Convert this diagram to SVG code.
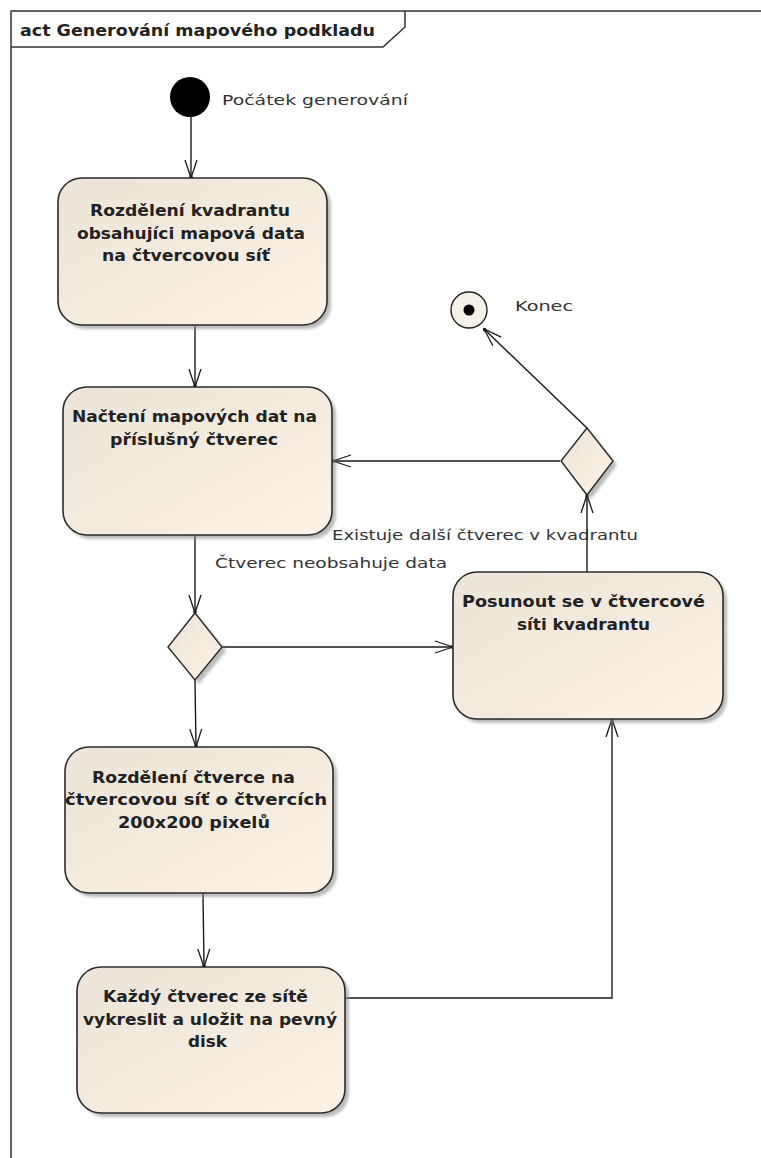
<svg xmlns="http://www.w3.org/2000/svg" width="761" height="1158" viewBox="0 0 761 1158">
  <style>
    .frame { fill: none; stroke: #333; stroke-width: 1.5; }
    .act { fill: url(#actFill); stroke: #2b2b2b; stroke-width: 1.6; }
    .shadow { fill: #8c8c8c; opacity: 0.6; filter: url(#soft); }
    .dec { fill: url(#actFill); stroke: #2b2b2b; stroke-width: 1.4; }
    .edge { fill: none; stroke: #1a1a1a; stroke-width: 1.4; }
    .bold { font-family: "DejaVu Sans", "Liberation Sans", sans-serif; font-weight: bold; font-size: 15.5px; fill: #222; }
    .lbl { font-family: "DejaVu Sans", "Liberation Sans", sans-serif; font-size: 14.5px; fill: #333; }
  </style>
  <defs>
    <linearGradient id="actFill" x1="0" y1="0" x2="1" y2="1">
      <stop offset="0" stop-color="#ece4d8"/>
      <stop offset="1" stop-color="#fcf2e5"/>
    </linearGradient>
    <filter id="soft" x="-10%" y="-10%" width="120%" height="120%">
      <feGaussianBlur stdDeviation="1.5"/>
    </filter>
    <marker id="open" viewBox="0 -7 20 14" refX="19" refY="0" markerWidth="20" markerHeight="14" markerUnits="userSpaceOnUse" orient="auto">
      <path d="M1,-6 L19,0 L1,6" fill="none" stroke="#1a1a1a" stroke-width="1.3"/>
      <circle cx="18" cy="0" r="1.8" fill="#1a1a1a"/>
    </marker>
  </defs>

  <rect width="761" height="1158" fill="#ffffff"/>

  <!-- activity frame -->
  <g id="frame">
    <path class="frame" d="M11,1158 L11,11 L761,11"/>
    <path class="frame" d="M11,47 L383,47 L405,27 L405,11"/>
    <text x="20" y="36" class="bold" textLength="355" lengthAdjust="spacingAndGlyphs">act Generování mapového podkladu</text>
  </g>

  <!-- connectors -->
  <g id="connectors">
    <path class="edge" d="M191,117 L191,178" marker-end="url(#open)"/>
    <path class="edge" d="M195,326 L195,387" marker-end="url(#open)"/>
    <path class="edge" d="M560,461 L333,461" marker-end="url(#open)"/>
    <path class="edge" d="M587,428 L484,329" marker-end="url(#open)"/>
    <path class="edge" d="M195,535 L195,613" marker-end="url(#open)"/>
    <path class="edge" d="M222,647 L453,647" marker-end="url(#open)"/>
    <path class="edge" d="M587,572 L587,495" marker-end="url(#open)"/>
    <path class="edge" d="M195,680 L196,747" marker-end="url(#open)"/>
    <path class="edge" d="M203,893 L204,967" marker-end="url(#open)"/>
    <path class="edge" d="M345,998 L612,998 L612,719" marker-end="url(#open)"/>
    <text x="332" y="540" class="lbl" textLength="306" lengthAdjust="spacingAndGlyphs">Existuje další čtverec v kvadrantu</text>
    <text x="215" y="568" class="lbl" textLength="232" lengthAdjust="spacingAndGlyphs">Čtverec neobsahuje data</text>
  </g>

  <!-- start -->
  <g id="start">
    <circle cx="190" cy="97" r="20" fill="#000"/>
    <text x="222" y="105" class="lbl" textLength="186" lengthAdjust="spacingAndGlyphs">Počátek generování</text>
  </g>

  <!-- end -->
  <g id="end">
    <circle cx="469" cy="310" r="18" fill="#f6f1e8" stroke="#222" stroke-width="1.4"/>
    <circle cx="469" cy="310" r="5.5" fill="#000"/>
    <text x="515" y="311" class="lbl" textLength="58" lengthAdjust="spacingAndGlyphs">Konec</text>
  </g>

  <!-- split quadrant -->
  <g id="a1">
    <rect class="shadow" x="62" y="182" width="269" height="147" rx="24"/>
    <rect class="act" x="58" y="178" width="269" height="147" rx="24"/>
    <text x="90" y="216" class="bold" textLength="200" lengthAdjust="spacingAndGlyphs">Rozdělení kvadrantu</text>
    <text x="77" y="239" class="bold" textLength="228" lengthAdjust="spacingAndGlyphs">obsahujíci mapová data</text>
    <text x="102" y="261" class="bold" textLength="168" lengthAdjust="spacingAndGlyphs">na čtvercovou síť</text>
  </g>

  <!-- load square data -->
  <g id="a2">
    <rect class="shadow" x="67" y="391" width="269" height="148" rx="24"/>
    <rect class="act" x="63" y="387" width="269" height="148" rx="24"/>
    <text x="72" y="422" class="bold" textLength="245" lengthAdjust="spacingAndGlyphs">Načtení mapových dat na</text>
    <text x="110" y="445" class="bold" textLength="168" lengthAdjust="spacingAndGlyphs">příslušný čtverec</text>
  </g>

  <!-- decision: more squares -->
  <g id="d1">
    <path class="shadow" d="M591,432 L617,465 L591,499 L565,465 Z"/>
    <path class="dec" d="M587,428 L613,461 L587,495 L561,461 Z"/>
  </g>

  <!-- decision: square without data -->
  <g id="d2">
    <path class="shadow" d="M199,617 L226,651 L199,684 L172,651 Z"/>
    <path class="dec" d="M195,613 L222,647 L195,680 L168,647 Z"/>
  </g>

  <!-- move in grid -->
  <g id="a5">
    <rect class="shadow" x="457" y="576" width="270" height="147" rx="24"/>
    <rect class="act" x="453" y="572" width="270" height="147" rx="24"/>
    <text x="462" y="607" class="bold" textLength="243" lengthAdjust="spacingAndGlyphs">Posunout se v čtvercové</text>
    <text x="517" y="630" class="bold" textLength="133" lengthAdjust="spacingAndGlyphs">síti kvadrantu</text>
  </g>

  <!-- split square into tiles -->
  <g id="a3">
    <rect class="shadow" x="69" y="751" width="268" height="146" rx="24"/>
    <rect class="act" x="65" y="747" width="268" height="146" rx="24"/>
    <text x="92" y="783" class="bold" textLength="203" lengthAdjust="spacingAndGlyphs">Rozdělení čtverce na</text>
    <text x="65" y="805" class="bold" textLength="262" lengthAdjust="spacingAndGlyphs">čtvercovou síť o čtvercích</text>
    <text x="118" y="828" class="bold" textLength="152" lengthAdjust="spacingAndGlyphs">200x200 pixelů</text>
  </g>

  <!-- render and save tiles -->
  <g id="a4">
    <rect class="shadow" x="81" y="971" width="268" height="146" rx="24"/>
    <rect class="act" x="77" y="967" width="268" height="146" rx="24"/>
    <text x="103" y="1002" class="bold" textLength="205" lengthAdjust="spacingAndGlyphs">Každý čtverec ze sítě</text>
    <text x="83" y="1025" class="bold" textLength="254" lengthAdjust="spacingAndGlyphs">vykreslit a uložit na pevný</text>
    <text x="188" y="1047" class="bold" textLength="39" lengthAdjust="spacingAndGlyphs">disk</text>
  </g>
</svg>
